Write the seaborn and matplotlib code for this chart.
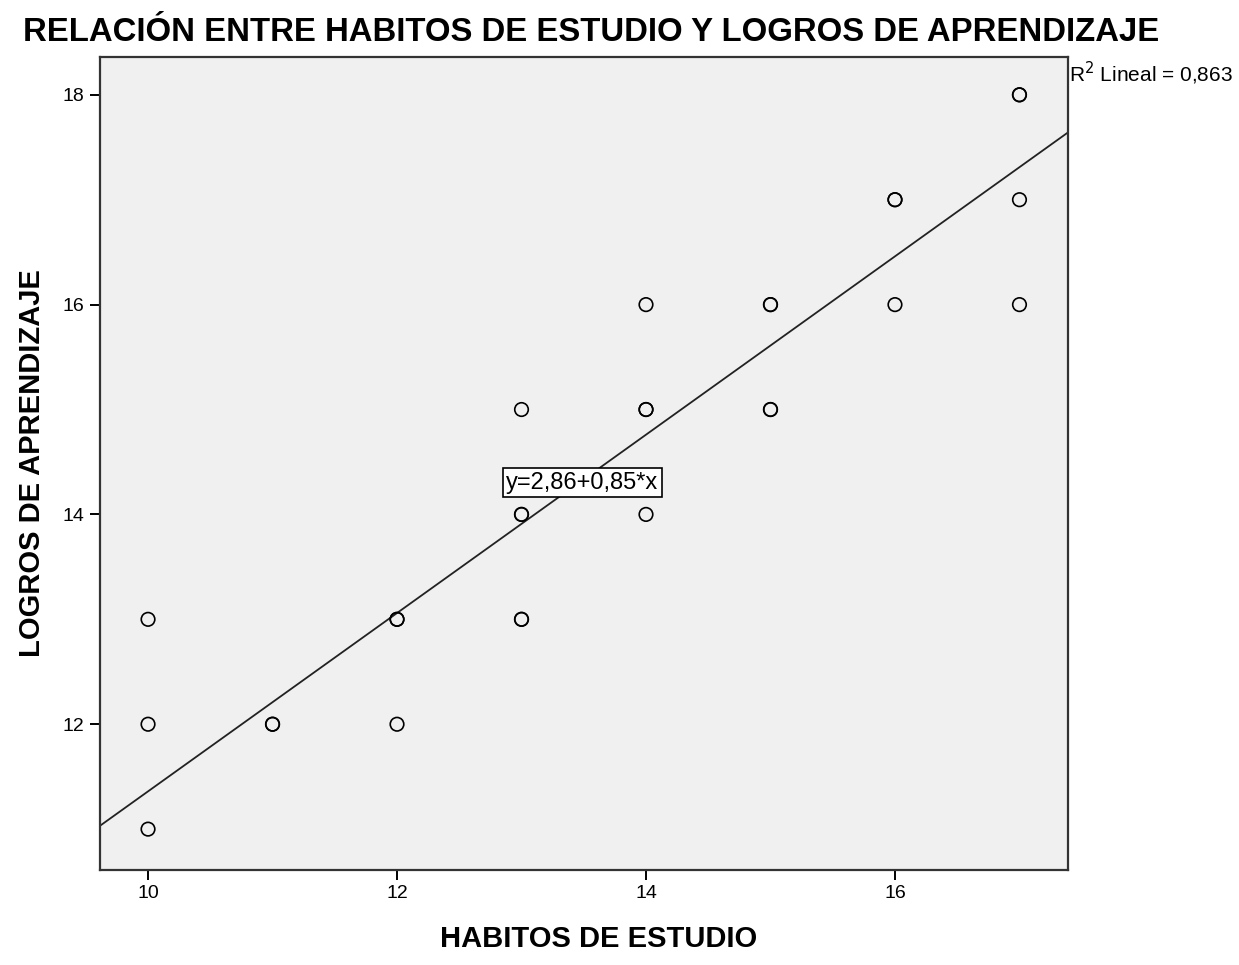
import numpy as np
import pandas as pd
import seaborn as sns
import matplotlib.pyplot as plt

# datos (los circulos gruesos son puntos repetidos)
habitos = [10, 10, 10, 11, 11, 12, 12, 12, 13, 13, 13, 13, 13,
           14, 14, 14, 14, 15, 15, 15, 15, 16, 16, 16, 17, 17, 17, 17]
logros = [11, 12, 13, 12, 12, 12, 13, 13, 13, 13, 14, 14, 15,
          14, 15, 15, 16, 15, 15, 16, 16, 16, 17, 17, 16, 17, 18, 18]

# recta de ajuste informada en el grafico
intercepto = 2.86
pendiente = 0.85
r2 = "0,863"

df = pd.DataFrame({"habitos": habitos, "logros": logros})

sns.set_style("white")
plt.rcParams['font.family'] = ['Liberation Sans', 'DejaVu Sans']
plt.rcParams['text.color'] = 'black'
plt.rcParams['axes.labelcolor'] = 'black'
plt.rcParams['xtick.color'] = 'black'
plt.rcParams['ytick.color'] = 'black'

fig = plt.figure(figsize=(12.39, 9.65), dpi=100)
ax = fig.add_axes([0.0807, 0.0984, 0.7813, 0.8425])
ax.set_facecolor("#f0f0f0")

sns.scatterplot(data=df, x="habitos", y="logros", ax=ax, s=95,
                facecolors="none", edgecolors="black", linewidths=1.2,
                zorder=3)

ax.axline((0, intercepto), slope=pendiente, color="#222222", lw=1.3, zorder=2)

ax.set_xlim(9.614, 17.39)
ax.set_ylim(10.61, 18.36)
ax.set_xticks([10, 12, 14, 16])
ax.set_yticks([12, 14, 16, 18])
ax.tick_params(direction="out", length=7, width=1.4, colors="black",
               labelsize=14, left=True, bottom=True, pad=4)
for s in ax.spines.values():
    s.set_color("#333333")
    s.set_linewidth(1.6)

ax.set_xlabel("HABITOS DE ESTUDIO", fontsize=21, fontweight="bold")
ax.set_ylabel("LOGROS DE APRENDIZAJE", fontsize=21, fontweight="bold")
ax.xaxis.set_label_coords(0.515, -0.068)
ax.yaxis.set_label_coords(-0.056, 0.5)

fig.text(0.477, 0.966, "RELACIÓN ENTRE HABITOS DE ESTUDIO Y LOGROS DE APRENDIZAJE",
         ha="center", va="center", fontsize=23.7, fontweight="bold")

ax.text(1.001, 0.997, "R$^2$ Lineal = " + r2, transform=ax.transAxes,
        ha="left", va="top", fontsize=15)

ax.text(13.49, 14.30, "y=2,86+0,85*x", ha="center", va="center", fontsize=17,
        bbox=dict(boxstyle="square,pad=0.15", fc="white", ec="black", lw=1.2),
        zorder=4)

fig.savefig("out.png", dpi=100)
